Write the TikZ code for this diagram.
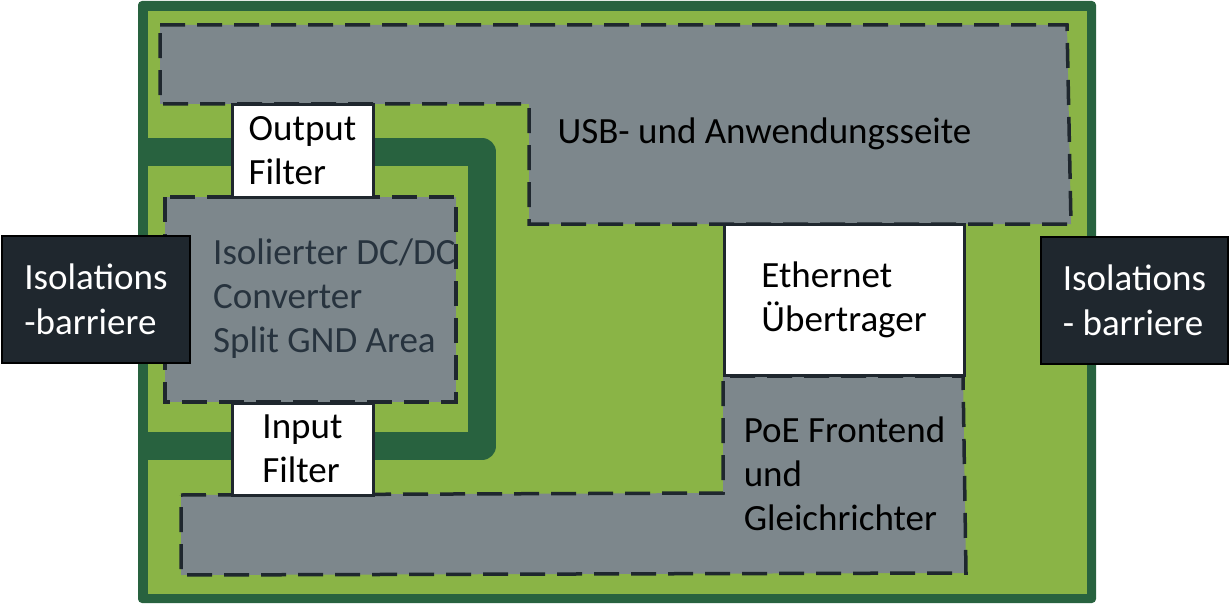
\documentclass[tikz,border=0pt]{standalone}
\usepackage{fontspec}
\setmainfont{Carlito}
\definecolor{dkgreen}{HTML}{28623F}
\definecolor{ltgreen}{HTML}{8AB446}
\definecolor{regiongray}{HTML}{7D878C}
\definecolor{ink}{HTML}{1F272E}
\definecolor{dctext}{HTML}{27333E}
\tikzset{
  region/.style={fill=regiongray, draw=ink, line width=3.5pt, dash pattern=on 25pt off 12pt, line join=miter},
  whitebox/.style={draw=ink, fill=white, line width=3pt, inner sep=0pt, align=left, font=\fontsize{37}{44}\selectfont},
  isobox/.style={draw=black, fill=ink, line width=2.5pt, text=white, inner sep=0pt, align=left, font=\fontsize{37}{45}\selectfont},
  lbl/.style={font=\fontsize{37}{44}\selectfont, align=left, inner sep=0pt},
  trace/.style={draw=dkgreen, line width=28pt, line join=round}
}
\begin{document}
\begin{tikzpicture}[x=1pt,y=-1pt]
\useasboundingbox (0,0) rectangle (1230,604);
% board
\fill[dkgreen, rounded corners=4pt] (138,1) rectangle (1096,603);
\fill[ltgreen] (148,11) rectangle (1087,594);
% thick ground trace
\coordinate (t1) at (140,152);
\coordinate (t2) at (482,152);
\coordinate (t3) at (482,446);
\coordinate (t4) at (140,446);
\draw[trace] (t1) -- (t2) -- (t3) -- (t4);
% regions
\draw[region] (160,25) -- (1067,25) -- (1071,224) -- (529,224) -- (529,104) -- (160,104) -- cycle;
\draw[region] (165,197) rectangle (456,402);
\draw[region] (181,495) -- (723,493) -- (723,376) -- (963,376) -- (966,573) -- (181,575) -- cycle;
% region labels
\node[lbl, anchor=base] (usb) at (764.5,144) {USB- und Anwendungsseite};
\node[lbl, anchor=west, text=dctext] (dcdc) at (213,299) {Isolierter DC/DC\\Converter\\Split GND Area};
\node[lbl] (poe) at (844.5,474) {PoE Frontend\\und\\Gleichrichter};
% white boxes
\node[whitebox, minimum width=141pt, minimum height=92pt] (outf) at (302.5,151) {Output\\Filter};
\node[whitebox, minimum width=141pt, minimum height=92pt] (inf) at (302.5,449) {Input\\Filter};
\node[whitebox, minimum width=240pt, minimum height=151pt] (eth) at (844,299.5) {Ethernet\\Übertrager};
% isolation barriers
\node[isobox, minimum width=188pt, minimum height=127pt] (isoL) at (96,299.5) {Isolations\\-barriere};
\node[isobox, minimum width=187pt, minimum height=127pt] (isoR) at (1134.5,300.5) {Isolations\\- barriere};
\end{tikzpicture}
\end{document}
